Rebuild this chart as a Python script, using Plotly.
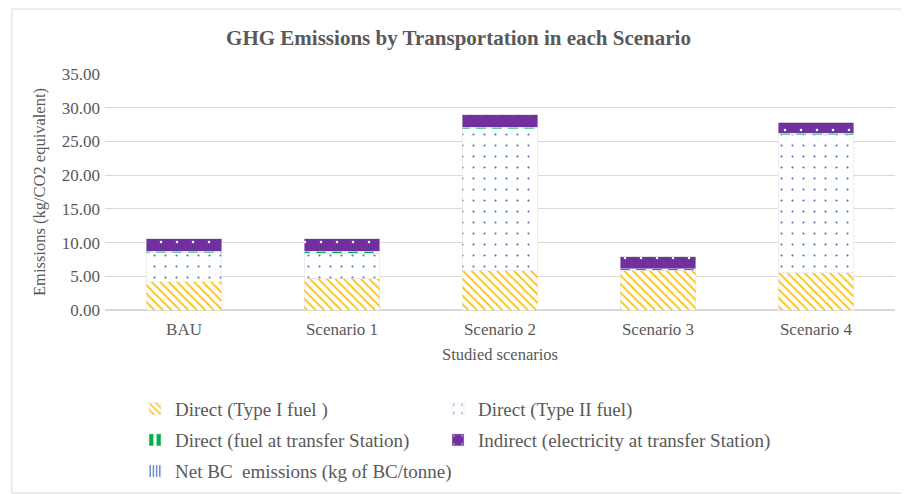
import plotly.graph_objects as go

categories = ["BAU", "Scenario 1", "Scenario 2", "Scenario 3", "Scenario 4"]
direct_type1 = [4.2, 4.6, 5.8, 5.9, 5.5]
direct_type2 = [4.3, 3.85, 21.05, 0.0, 20.5]
direct_fuel_transfer = [0.25, 0.25, 0.25, 0.25, 0.25]
indirect_electricity = [1.8, 1.85, 1.85, 1.75, 1.6]
net_bc = [0.0, 0.0, 0.0, 0.0, 0.0]

series_names = [
    "Direct (Type I fuel )",
    "Direct (Type II fuel)",
    "Direct (fuel at transfer Station)",
    "Indirect (electricity at transfer Station)",
    "Net BC  emissions (kg of BC/tonne)",
]
y_ticks = [0, 5, 10, 15, 20, 25, 30, 35]

font_family = "Liberation Serif, Times New Roman, serif"
txt = "#595959"

styles = [
    dict(shape="\\", fgcolor="#FFC000", bgcolor="white", size=6, solidity=0.3),
    dict(shape=".", fgcolor="#4472C4", bgcolor="white", size=11, solidity=0.03),
    dict(shape="|", fgcolor="#00B050", bgcolor="white", size=16, solidity=0.6),
    dict(shape=".", fgcolor="white", bgcolor="#7030A0", size=16, solidity=0.02),
    dict(shape="|", fgcolor="#4472C4", bgcolor="white", size=4, solidity=0.4),
]
values = [direct_type1, direct_type2, direct_fuel_transfer, indirect_electricity, net_bc]
legend_ids = ["legend", "legend2", "legend3", "legend4", "legend5"]
# legend placement (x in paper, y in container) per entry
legend_pos = [(0.038, 0.175), (0.4215, 0.175), (0.038, 0.111), (0.4215, 0.111), (0.038, 0.047)]

fig = go.Figure()
for name, vals, st, lg in zip(series_names, values, styles, legend_ids):
    fig.add_trace(go.Bar(
        x=categories, y=vals, name=name, legend=lg, showlegend=True,
        marker=dict(color="white", pattern=dict(
            shape=st["shape"], fgcolor=st["fgcolor"], bgcolor=st["bgcolor"],
            size=st["size"], solidity=st["solidity"], fillmode="replace"),
            line=dict(color="#e0e0e0", width=0.5)),
    ))

legends = {}
for lg, (lx, ly) in zip(legend_ids, legend_pos):
    legends[lg] = dict(orientation="h", x=lx, y=ly, xanchor="left", yanchor="middle",
                       yref="container", traceorder="normal", visible=True,
                       font=dict(size=19, color=txt, family=font_family), itemwidth=30,
                       bgcolor="rgba(0,0,0,0)")

fig.update_layout(
    width=901, height=486,
    showlegend=True,
    barmode="stack", bargap=0.52,
    paper_bgcolor="white", plot_bgcolor="white",
    margin=dict(l=97, r=14, t=66, b=184),
    font=dict(family=font_family, color=txt, size=17),
    title=dict(text="<b>GHG Emissions by Transportation in each Scenario</b>",
               x=0.5, xanchor="center", y=0.938, yanchor="middle",
               font=dict(size=21, color=txt, family=font_family)),
    xaxis=dict(title=dict(text="Studied scenarios", font=dict(size=16.5), standoff=10),
               tickfont=dict(size=17), showline=False, ticks="", automargin=False,
               ticklabelstandoff=7),
    yaxis=dict(range=[0, 35], tickvals=y_ticks,
               ticktext=[f"{v:.2f}" for v in y_ticks],
               tickfont=dict(size=17), automargin=False, ticklabelstandoff=4,
               gridcolor="#d9d9d9", gridwidth=1, zeroline=True, zerolinecolor="#d9d9d9",
               title=dict(text="Emissions (kg/CO2 equivalent)", font=dict(size=16.5), standoff=11)),
    shapes=[dict(type="rect", xref="paper", yref="paper",
                 x0=-0.118, x1=1.010, y0=-0.775, y1=1.275,
                 line=dict(color="#d9d9d9", width=1), fillcolor="rgba(0,0,0,0)", layer="below")],
    **legends,
)

fig.write_html("out.html")
